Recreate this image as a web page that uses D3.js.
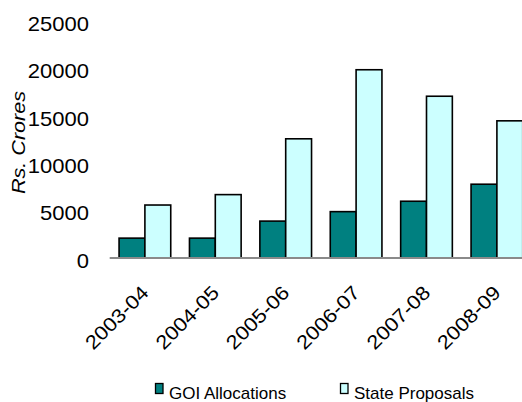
<!DOCTYPE html>
<html>
<head>
<meta charset="utf-8">
<script src="https://cdn.jsdelivr.net/npm/d3@7"></script>
<style>
  html, body { margin: 0; padding: 0; background: #fff; }
  svg { display: block; font-family: "Liberation Sans", Arial, sans-serif; }
</style>
</head>
<body>
<svg id="chart" width="522" height="402"></svg>
<script>
// Annual figures, Rs. crores
const years = ["2003-04", "2004-05", "2005-06", "2006-07", "2007-08", "2008-09"];
const goiAllocations = [2100, 2100, 3900, 4900, 6000, 7800];
const stateProposals = [5600, 6700, 12600, 19900, 17100, 14500];
const seriesNames = ["GOI Allocations", "State Proposals"];
const seriesColors = ["#008080", "#CCFFFF"];
const yTicks = [0, 5000, 10000, 15000, 20000, 25000];

const rows = years.map((y, i) => ({ year: y, values: [goiAllocations[i], stateProposals[i]] }));

const svg = d3.select("#chart");
const baseY = 258, topY = 21.5;
const left = 109.7, step = 70.4;

const x = d3.scaleBand()
  .domain(years)
  .range([left, left + step * years.length])
  .paddingInner(0.266)
  .paddingOuter(0.133);

const xs = d3.scaleBand()
  .domain(seriesNames)
  .range([0, x.bandwidth()]);

const y = d3.scaleLinear().domain([0, 25000]).range([baseY, topY]);

// Bars
const groups = svg.append("g").selectAll("g")
  .data(rows)
  .join("g")
  .attr("transform", d => `translate(${x(d.year)},0)`);

groups.selectAll("rect")
  .data(d => d.values.map((v, k) => ({ name: seriesNames[k], v, k })))
  .join("rect")
  .attr("x", d => xs(d.name))
  .attr("width", xs.bandwidth())
  .attr("y", d => y(d.v))
  .attr("height", d => baseY - y(d.v))
  .attr("fill", d => seriesColors[d.k])
  .attr("stroke", "#000")
  .attr("stroke-width", 1.6);

// Category axis line
svg.append("line")
  .attr("x1", left).attr("x2", 522)
  .attr("y1", baseY).attr("y2", baseY)
  .attr("stroke", "#8a8a8a")
  .attr("stroke-width", 2);

// Value axis labels
const yAxis = d3.axisLeft(y).tickValues(yTicks).tickFormat(d3.format("d")).tickSize(0).tickPadding(0);
const yg = svg.append("g").attr("transform", "translate(89,0)").call(yAxis);
yg.select(".domain").remove();
yg.selectAll(".tick text")
  .attr("x", 0)
  .attr("dy", "0.45em")
  .attr("transform", "scale(1.1,1)")
  .attr("fill", "#000")
  .style("font-size", "20px")
  .style("font-family", "'Liberation Sans', Arial, sans-serif");

// Category labels, slanted
const xAxis = d3.axisBottom(x).tickSize(0).tickPadding(0);
const xg = svg.append("g").attr("transform", `translate(0,${baseY})`).call(xAxis);
xg.select(".domain").remove();
xg.selectAll(".tick text")
  .attr("y", 0)
  .attr("dy", 0)
  .attr("text-anchor", "end")
  .attr("transform", "translate(5,36) rotate(-45) scale(1.12,1)")
  .attr("fill", "#000")
  .style("font-size", "19.5px")
  .style("font-family", "'Liberation Sans', Arial, sans-serif");

// Value axis title
svg.append("text")
  .attr("transform", "translate(24.5,142.5) rotate(-90) scale(1.2,1)")
  .attr("text-anchor", "middle")
  .style("font-size", "18px")
  .style("font-style", "italic")
  .text("Rs. Crores");

// Legend
const legendItems = [
  { name: seriesNames[0], color: seriesColors[0], sx: 155.5, tx: 169 },
  { name: seriesNames[1], color: seriesColors[1], sx: 340.5, tx: 354 }
];
const lg = svg.append("g");
lg.selectAll("rect")
  .data(legendItems)
  .join("rect")
  .attr("x", d => d.sx).attr("y", 383.5)
  .attr("width", 7.5).attr("height", 10)
  .attr("fill", d => d.color)
  .attr("stroke", "#000")
  .attr("stroke-width", 1.3);
lg.selectAll("text")
  .data(legendItems)
  .join("text")
  .attr("x", d => d.tx).attr("y", 399)
  .style("font-size", "17px")
  .text(d => d.name);
</script>
</body>
</html>
